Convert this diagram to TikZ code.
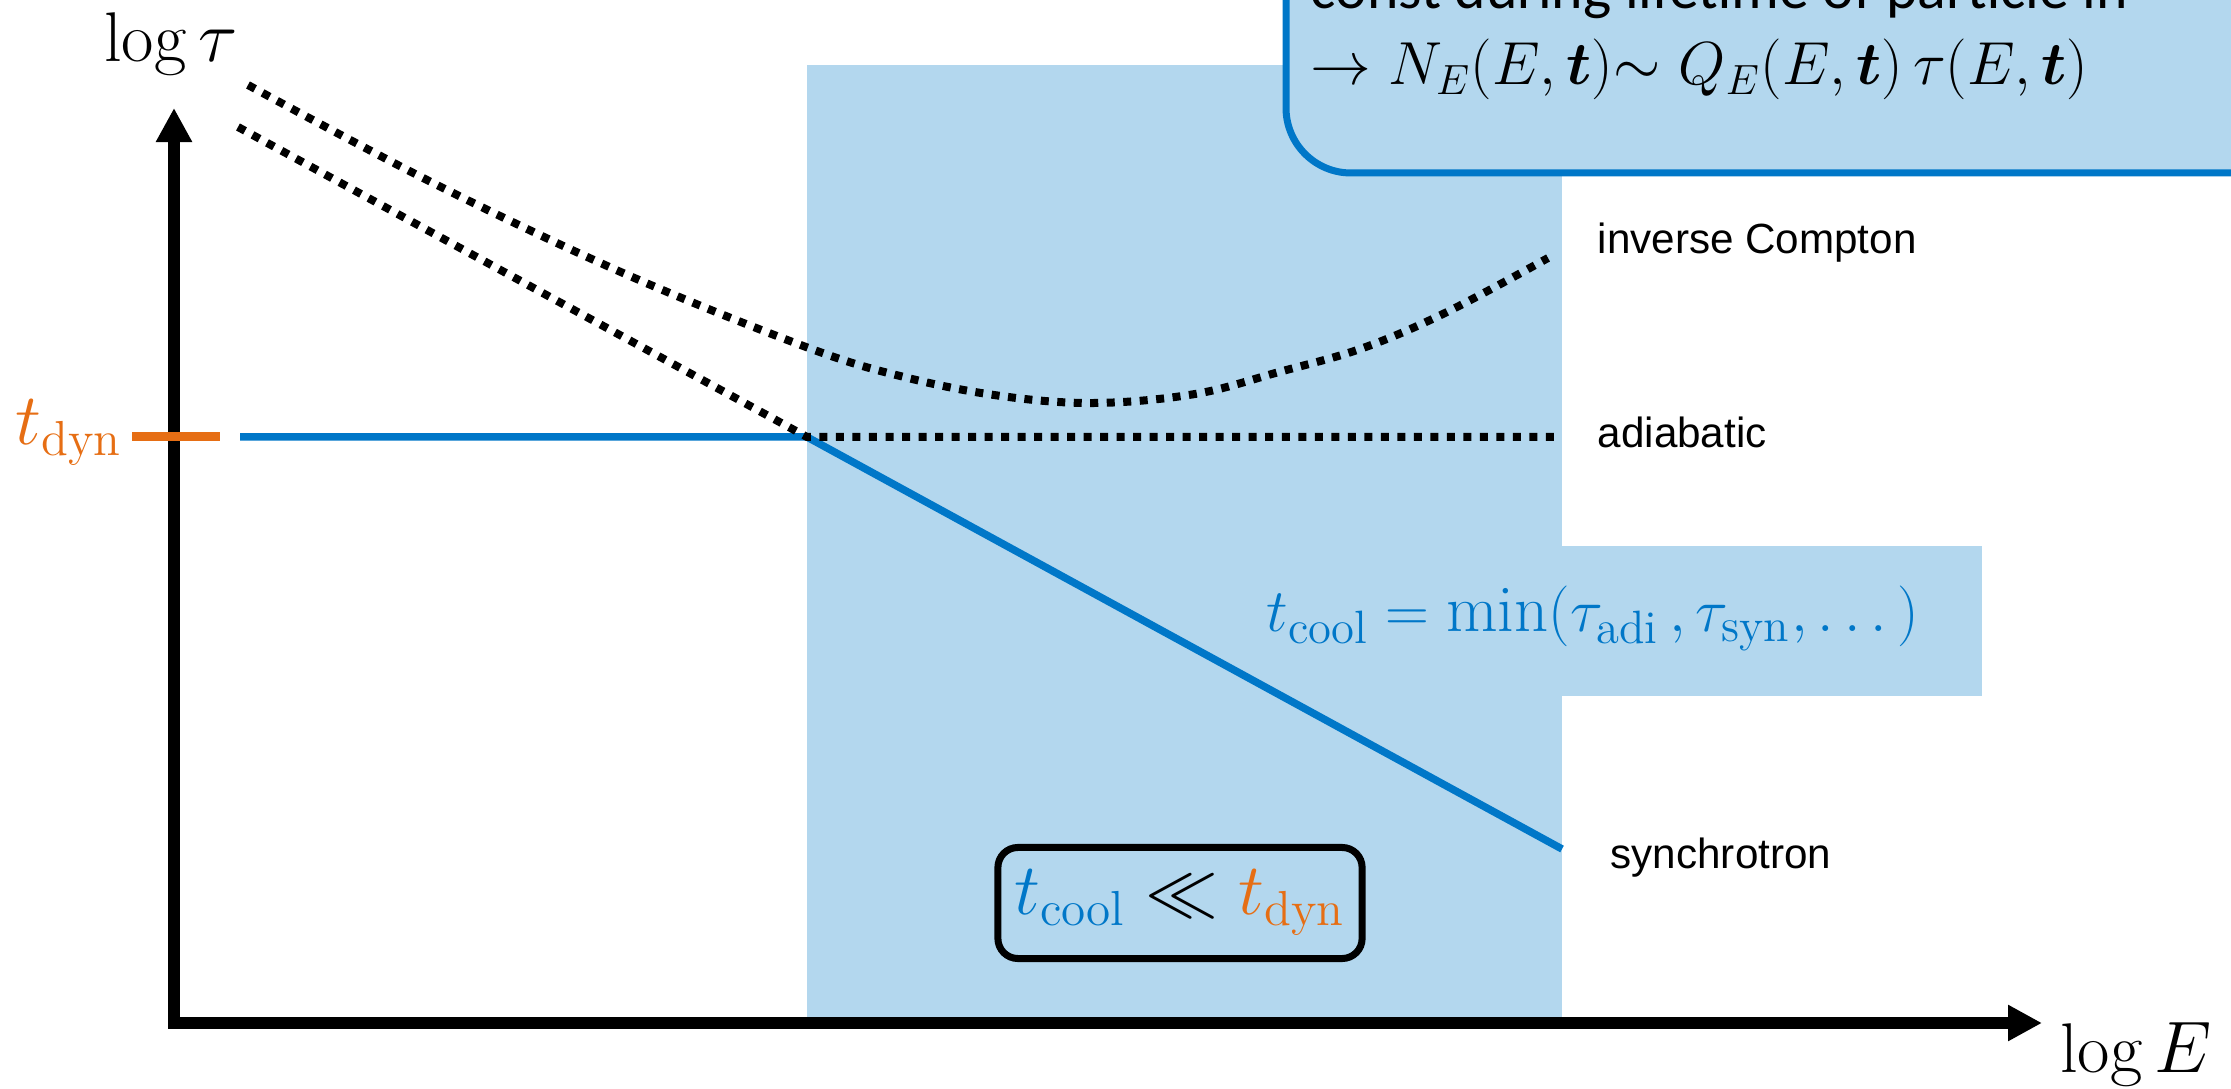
\documentclass[tikz,border=0pt]{standalone}
\usepackage{amsmath,amssymb}
\usepackage{fontspec}
\usepackage{tikz}
\usetikzlibrary{positioning,calc,arrows.meta}
\usepackage{xcolor}
\newfontfamily\arialfont{Liberation Sans}
\newfontfamily\calibrifont{Carlito}
\definecolor{coolblue}{RGB}{0,119,200}
\definecolor{regionblue}{RGB}{179,215,238}
\definecolor{dynorange}{RGB}{230,110,20}

\begin{document}
\begin{tikzpicture}[x=0.01cm,y=-0.01cm,inner sep=0pt,
    axis/.style={line width=0.12cm,line join=miter,
        {Triangle[length=0.34cm,width=0.34cm]}-{Triangle[length=0.34cm,width=0.34cm]}},
    dotline/.style={line width=0.08cm,dash pattern=on 0.08cm off 0.085cm},
    coolline/.style={coolblue,line width=0.075cm},
    curvelabel/.style={anchor=west,font=\arialfont\fontsize{12}{14}\selectfont},
    bigmath/.style={font=\fontsize{20}{24}\selectfont}]
\useasboundingbox (0,0) rectangle (2231,1089);
\clip (0,0) rectangle (2231,1089);
% shaded regime
\fill[regionblue] (807,65) rectangle (1562,1023);
\fill[regionblue] (1562,546) rectangle (1982,696);
\draw[coolblue,fill=regionblue,line width=0.07cm,rounded corners=0.65cm] (1286,-150) rectangle (2400,173);
\node (note1) at (1310,9) [anchor=base west,font=\calibrifont\fontsize{17}{20}\selectfont] {const during lifetime of particle in};
\node (note2) at (1310,85) [anchor=base west,font=\fontsize{17}{20}\selectfont]
    {$\rightarrow N_E(E,\boldsymbol{t}){\sim}\ Q_E(E,\boldsymbol{t})\,\tau(E,\boldsymbol{t})$};
% coordinates
\coordinate (origin) at (174,1023);
\coordinate (ytip) at (174,108);
\coordinate (xtip) at (2042,1023);
\coordinate (knee) at (807,437);
\coordinate (flat) at (240,437);
\coordinate (synend) at (1562,849);
\coordinate (adiend) at (1562,437);
\coordinate (adistart) at (238,127);
% cooling time
\draw[coolline] (flat) -- (knee) -- (synend);
\draw[dotline] (adistart) -- (knee) -- (adiend);
\draw[dotline] plot[smooth,tension=0.6] coordinates {(248,85) (431,182) (623,273) (806,347) (904,377) (1001,396) (1095,403) (1195,394) (1279,372) (1363,348) (1447,312) (1548,258)};
% axes
\draw[axis] (ytip) -- (origin) -- (xtip);
\draw[dynorange,line width=0.09cm] (132,437) -- (220,437);
\node (ylabel) at (171,62) [anchor=base,bigmath] {$\log\tau$};
\node (xlabel) at (2136,1072) [anchor=base,bigmath] {$\log E$};
\node (tdyn) at (15,445) [anchor=base west,bigmath,text=dynorange] {$t_{\mathrm{dyn}}$};
\node (tcool) at (1266,632) [anchor=base west,font=\fontsize{19}{23}\selectfont,text=coolblue]
    {$t_{\mathrm{cool}} = \min(\tau_{\mathrm{adi}}\,, \tau_{\mathrm{syn}}, \ldots\,)$};
\node (ratio) at (1180,903) [draw,line width=0.07cm,rounded corners=0.2cm,minimum width=3.64cm,minimum height=1.11cm,bigmath]
    {$\color{coolblue}t_{\mathrm{cool}}\color{black}\ll\color{dynorange}t_{\mathrm{dyn}}$};
\node (ic) at (1597,243) [curvelabel] {inverse Compton};
\node (adi) at (1597,432) [curvelabel] {adiabatic};
\node (syn) at (1610,858) [curvelabel] {synchrotron};
\end{tikzpicture}
\end{document}
